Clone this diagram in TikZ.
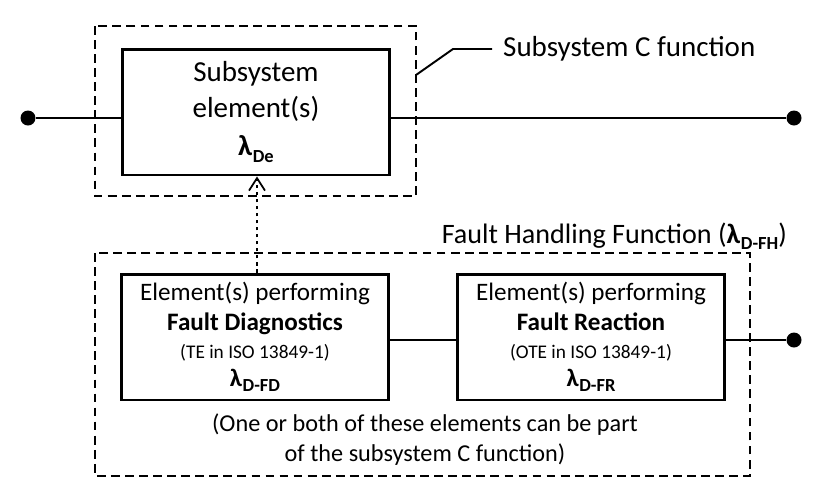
\documentclass[tikz,border=0pt]{standalone}
\usepackage{fontspec}
\setmainfont{Carlito}
\usetikzlibrary{arrows.meta,calc,positioning}

\newcommand{\lam}[1]{\textbf{λ\kern0.3pt\raisebox{-0.45ex}{\fontsize{10.5}{10.5}\selectfont #1}}}

\begin{document}
\begin{tikzpicture}[x=0.02cm,y=-0.02cm,
    elem/.style={draw, line width=1.7pt, inner sep=0pt, align=center,
      font=\fontsize{14.3}{20}\selectfont},
    group/.style={line width=1.1pt, dash pattern=on 5pt off 3pt},
    wire/.style={line width=1.5pt},
    dot/.style={circle, fill, inner sep=0pt, minimum size=0.3cm}]
            \useasboundingbox (0,0) rectangle (834,498);
            \def\w{5.35cm}
            \def\h{2.52cm}
            % subsystem element
            \node[elem, minimum width=\w, minimum height=\h,
              font=\fontsize{16.5}{20}\selectfont] (sub) at (256,112)
              {Subsystem\\element(s)\\[2pt]\lam{De}};
            \draw[group] (95,26) rectangle (416,196);
            \node[dot] (inL) at (28,118) {};
            \node[dot] (outT) at (794,118) {};
            \draw[wire] (inL) -- (inL -| sub.west);
            \draw[wire] (outT -| sub.east) -- (outT);
            % callout
            \coordinate (c1) at (416,75);
            \coordinate (c2) at (453,49);
            \coordinate (c3) at (492,49);
            \draw[line width=1.1pt] (c1) -- (c2) -- (c3);
            \node[anchor=west, font=\fontsize{16.5}{20}\selectfont] (cfun) at (497,49) {Subsystem C function};
            % fault handling
            \node[anchor=east, font=\fontsize{16}{20}\selectfont] (fhf) at (793,236)
              {Fault Handling Function (\lam{D-FH})};
            \draw[group] (95,253) rectangle (750,476);
            \node[elem, minimum width=\w, minimum height=\h] (fd) at (255,337)
              {Element(s) performing\\[-3pt]\textbf{Fault Diagnostics}\\[-4pt]
               {\fontsize{11}{13}\selectfont (TE in ISO 13849-1)}\\[-4pt]\lam{D-FD}};
            \node[elem, minimum width=\w, minimum height=\h] (fr) at (591,337)
              {Element(s) performing\\[-3pt]\textbf{Fault Reaction}\\[-4pt]
               {\fontsize{11}{13}\selectfont (OTE in ISO 13849-1)}\\[-4pt]\lam{D-FR}};
            \node[dot] (outB) at (794,340) {};
            \draw[wire] (fd.east |- outB) -- (fr.west |- outB);
            \draw[wire] (fr.east |- outB) -- (outB);
            \draw[line width=1pt, dash pattern=on 2pt off 2pt,
              -{Straight Barb[length=2.5mm,width=3.2mm,line width=1pt]}]
              (fd.north -| 257,0) -- (sub.south -| 257,0);
            \node[font=\fontsize{13.8}{17}\selectfont, align=center] (note) at (425,440)
              {(One or both of these elements can be part\\of the subsystem C function)};
          \end{tikzpicture}
\end{document}
